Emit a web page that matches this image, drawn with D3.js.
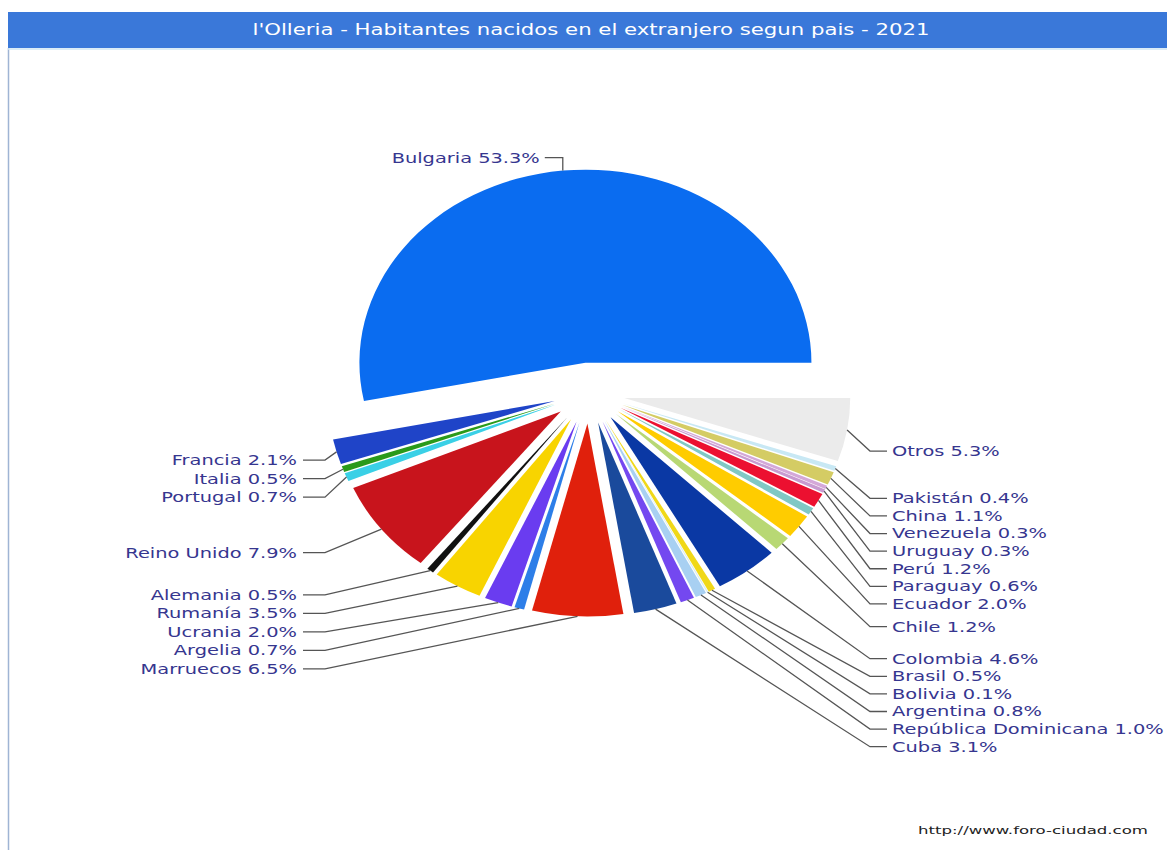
<!DOCTYPE html>
<html>
<head>
<meta charset="utf-8">
<script src="https://cdn.jsdelivr.net/npm/d3@7"></script>
<style>
  html, body { margin: 0; padding: 0; background: #ffffff; }
  svg { display: block; }
</style>
</head>
<body>
<svg id="chart" width="1167" height="850"></svg>
<script>
// ---- data ----
const titleText = "l'Olleria - Habitantes nacidos en el extranjero segun pais - 2021";
const footerText = "http://www.foro-ciudad.com";
const countries = [
  "Bulgaria", "Francia", "Italia", "Portugal", "Reino Unido", "Alemania",
  "Rumanía", "Ucrania", "Argelia", "Marruecos", "Cuba", "República Dominicana",
  "Argentina", "Bolivia", "Brasil", "Colombia", "Chile", "Ecuador", "Paraguay",
  "Perú", "Uruguay", "Venezuela", "China", "Pakistán", "Otros"
];
const values = [
  53.3, 2.1, 0.5, 0.7, 7.9, 0.5,
  3.5, 2.0, 0.7, 6.5, 3.1, 1.0,
  0.8, 0.1, 0.5, 4.6, 1.2, 2.0, 0.6,
  1.2, 0.3, 0.3, 1.1, 0.4, 5.3
];
const colors = [
  "#0a6cf0", "#1f44c8", "#2a9a1a", "#3ad0e6", "#c8141c", "#111111",
  "#f8d400", "#6a3cf0", "#2d7ee8", "#e0200c", "#1a4a9c", "#7448f0",
  "#a8d0f2", "#d8ecf4", "#f0d818", "#0a38a4", "#b8d874", "#ffcc00", "#80c8c4",
  "#ec1030", "#c89ad0", "#d4a8d8", "#d4cc64", "#c8e8f4", "#ebebeb"
];

const data = countries.map((c, i) => ({ name: c, value: values[i], color: colors[i] }));

// ---- layout ----
const W = 1167, H = 850;
const cx = 589, cy = 393;
const ry = 193, rx = 226;
const sx = rx / ry;
const explode = 30.5;
const labelColor = "#36368f";
const lineColor = "#555555";

const svg = d3.select("#chart");

// frame + title bar
svg.append("line").attr("x1", 8.5).attr("x2", 8.5).attr("y1", 48).attr("y2", H)
  .attr("stroke", "#9fb4d4").attr("stroke-width", 1.5);
svg.append("rect").attr("x", 8).attr("y", 12).attr("width", W - 8).attr("height", 36)
  .attr("fill", "#3a78d9");
svg.append("line").attr("x1", 8).attr("x2", W).attr("y1", 49).attr("y2", 49)
  .attr("stroke", "#cfe6f4").attr("stroke-width", 1.5);
svg.append("text")
  .attr("x", 591).attr("y", 30).attr("dy", "0.35em")
  .attr("text-anchor", "middle")
  .attr("font-family", "DejaVu Sans, Verdana, sans-serif")
  .attr("font-size", 15)
  .attr("fill", "#ffffff")
  .attr("textLength", 677).attr("lengthAdjust", "spacingAndGlyphs")
  .text(titleText);

// footer
svg.append("text")
  .attr("x", 1033).attr("y", 830).attr("dy", "0.35em")
  .attr("text-anchor", "middle")
  .attr("font-family", "DejaVu Sans, Verdana, sans-serif")
  .attr("font-size", 11)
  .attr("fill", "#222222")
  .attr("textLength", 230).attr("lengthAdjust", "spacingAndGlyphs")
  .text(footerText);

// pie: starts at east, runs counter-clockwise on screen
const pie = d3.pie().sort(null).value(d => d.value)
  .startAngle(Math.PI / 2).endAngle(Math.PI / 2 - 2 * Math.PI);
const arcs = pie(data);
const arcGen = d3.arc().innerRadius(0).outerRadius(ry);

arcs.forEach(a => {
  const m = (a.startAngle + a.endAngle) / 2;
  a.mid = m;
  a.offX = explode * sx * Math.sin(m);
  a.offY = -explode * Math.cos(m);
  a.ax = cx + a.offX + rx * Math.sin(m);
  a.ay = cy + a.offY - ry * Math.cos(m);
});

const slices = svg.append("g");
slices.selectAll("g.slice").data(arcs).join("g")
  .attr("class", "slice")
  .attr("transform", d => `translate(${cx + d.offX},${cy + d.offY}) scale(${sx},1)`)
  .append("path")
  .attr("d", arcGen)
  .attr("fill", d => d.data.color);

// ---- labels ----
function fmt(v) { return v.toFixed(1) + "%"; }

function clusterLayout(items, gap) {
  items.sort((a, b) => a.want - b.want);
  let clusters = items.map(it => ({ items: [it] }));
  const place = c => {
    const mean = d3.mean(c.items, d => d.want);
    c.top = mean - (c.items.length - 1) * gap / 2;
  };
  clusters.forEach(place);
  let merged = true;
  while (merged) {
    merged = false;
    for (let i = 0; i < clusters.length - 1; i++) {
      const a = clusters[i], b = clusters[i + 1];
      if (b.top < a.top + a.items.length * gap) {
        a.items = a.items.concat(b.items);
        clusters.splice(i + 1, 1);
        place(a);
        merged = true;
        break;
      }
    }
  }
  clusters.forEach(c => c.items.forEach((it, k) => { it.y = c.top + k * gap; }));
}

const topLabels = arcs.filter(a => Math.cos(a.mid) > 0.9);
const leftLabels = arcs.filter(a => Math.cos(a.mid) <= 0.9 && Math.sin(a.mid) < 0)
  .map(a => ({ a, want: cy - 262 * Math.cos(a.mid) }));
const rightLabels = arcs.filter(a => Math.cos(a.mid) <= 0.9 && Math.sin(a.mid) >= 0)
  .map(a => ({ a, want: cy + 1 - 345 * Math.cos(a.mid) }));
clusterLayout(leftLabels, 18.5);
clusterLayout(rightLabels, 17.6);

const lab = svg.append("g")
  .attr("font-family", "DejaVu Sans, Verdana, sans-serif")
  .attr("font-size", 14)
  .attr("fill", labelColor);
const lines = svg.append("g").attr("fill", "none")
  .attr("stroke", lineColor).attr("stroke-width", 1.3);

function addText(x, y, anchor, str) {
  lab.append("text")
    .attr("transform", `translate(${x},${y}) scale(1.385,1)`)
    .attr("dy", "0.35em")
    .attr("text-anchor", anchor)
    .text(str);
}

leftLabels.forEach(l => {
  lines.append("path").attr("d", d3.line()([[l.a.ax, l.a.ay], [325, l.y], [303, l.y]]));
  addText(297, l.y, "end", `${l.a.data.name} ${fmt(l.a.data.value)}`);
});
rightLabels.forEach(l => {
  lines.append("path").attr("d", d3.line()([[l.a.ax, l.a.ay], [870, l.y], [887, l.y]]));
  addText(892, l.y, "start", `${l.a.data.name} ${fmt(l.a.data.value)}`);
});
topLabels.forEach(a => {
  const y = a.ay - 13;
  lines.append("path").attr("d", d3.line()([[a.ax, a.ay], [a.ax, y], [a.ax - 18, y]]));
  addText(a.ax - 23, y, "end", `${a.data.name} ${fmt(a.data.value)}`);
});
</script>
</body>
</html>
